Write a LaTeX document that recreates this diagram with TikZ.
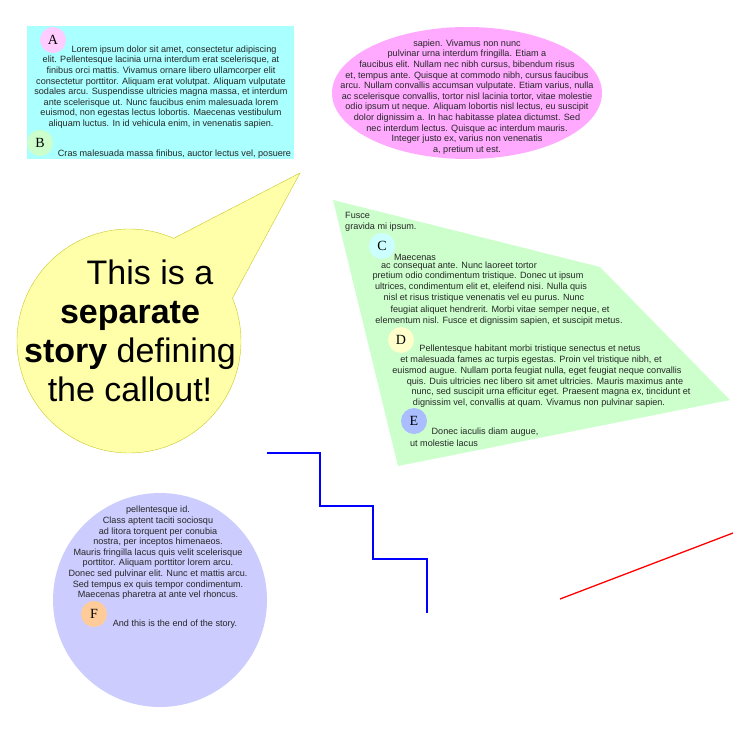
\documentclass[tikz,border=0pt]{standalone}
\usepackage{fontspec}
\setmainfont{Liberation Sans}
\newfontfamily\letterfont{Liberation Serif}
\usetikzlibrary{shapes.geometric,shapes.callouts}
\definecolor{framecyan}{RGB}{170,255,255}
\definecolor{framepink}{RGB}{255,170,255}
\definecolor{framegreen}{RGB}{204,255,204}
\definecolor{framelilac}{RGB}{204,204,255}
\definecolor{calloutfill}{RGB}{255,255,170}
\definecolor{calloutline}{RGB}{200,200,40}
\tikzstyle{lorem} = [font={\fontsize{9.1}{10.6}\selectfont}, inner sep=0pt, align=center, text=black!85]
\tikzstyle{initial} = [shape=circle, minimum size=26pt, inner sep=0pt, font={\letterfont\fontsize{14}{14}\selectfont}]

\begin{document}
\begin{tikzpicture}[x=1pt,y=-1pt]
\useasboundingbox (0,0) rectangle (733,733);

% frames
\fill[framecyan] (27,26) rectangle (294,159);
\node[fill=framepink, shape=ellipse, minimum width=270pt, minimum height=132pt, inner sep=0pt] (oval) at (467,93) {};
\fill[framegreen] (333,200) -- (600,267) -- (730,400) -- (398,466) -- cycle;
\node[fill=framelilac, shape=circle, minimum size=214pt, inner sep=0pt] (disc) at (160,600) {};

% callout
\coordinate (tip) at (300,173);
\node[ellipse callout, fill=calloutfill, draw=calloutline, minimum width=224pt, minimum height=224pt, inner sep=0pt, callout absolute pointer={(tip)}, callout pointer arc=44] (bubble) at (129,341) {};
\node[font={\fontsize{34}{39}\selectfont}, align=center, inner sep=0pt] (bubbletext) at (130,331) {\hspace*{40pt}This is a\\ \textbf{separate}\\ \textbf{story} defining\\ the callout!};

% initials
\node[initial, fill={rgb,255:red,255;green,204;blue,255}] (A) at (53,40) {A};
\node[initial, fill={rgb,255:red,204;green,255;blue,204}] (B) at (40,143) {B};
\node[initial, fill={rgb,255:red,204;green,255;blue,255}] (C) at (382,246) {C};
\node[initial, fill={rgb,255:red,255;green,255;blue,204}] (D) at (401,340) {D};
\node[initial, fill={rgb,255:red,170;green,190;blue,255}] (E) at (414,421) {E};
\node[initial, fill={rgb,255:red,255;green,204;blue,153}] (F) at (94,614) {F};

% story in the box
\node[lorem] (parA) at (161,87) {\hspace*{26pt}Lorem ipsum dolor sit amet, consectetur adipiscing\\
elit. Pellentesque lacinia urna interdum erat scelerisque, at\\
finibus orci mattis. Vivamus ornare libero ullamcorper elit\\
consectetur porttitor. Aliquam erat volutpat. Aliquam vulputate\\
sodales arcu. Suspendisse ultricies magna massa, et interdum\\
ante scelerisque ut. Nunc faucibus enim malesuada lorem\\
euismod, non egestas lectus lobortis. Maecenas vestibulum\\
aliquam luctus. In id vehicula enim, in venenatis sapien.};
\node[lorem] (parB) at (174.5,154) {Cras malesuada massa finibus, auctor lectus vel, posuere};

% story in the oval
\node[lorem] (parOval) at (467,97) {sapien. Vivamus non nunc\\
pulvinar urna interdum fringilla. Etiam a\\
faucibus elit. Nullam nec nibh cursus, bibendum risus\\
et, tempus ante. Quisque at commodo nibh, cursus faucibus\\
arcu. Nullam convallis accumsan vulputate. Etiam varius, nulla\\
ac scelerisque convallis, tortor nisl lacinia tortor, vitae molestie\\
odio ipsum ut neque. Aliquam lobortis nisl lectus, eu suscipit\\
dolor dignissim a. In hac habitasse platea dictumst. Sed\\
nec interdum lectus. Quisque ac interdum mauris.\\
Integer justo ex, varius non venenatis\\
a, pretium ut est.};

% story in the green shape
\node[lorem, align=left, anchor=west] (fusce) at (345,222) {Fusce\\gravida mi ipsum.};
\foreach \x/\y/\t [count=\i] in {
  415/257/{Maecenas},
  459/266/{ac consequat ante. Nunc laoreet tortor},
  478/276/{pretium odio condimentum tristique. Donec ut ipsum},
  481/287/{ultrices, condimentum elit et, eleifend nisi. Nulla quis},
  484/298/{nisl et risus tristique venenatis vel eu purus. Nunc},
  500/310/{feugiat aliquet hendrerit. Morbi vitae semper neque, et},
  499/321/{elementum nisl. Fusce et dignissim sapien, et suscipit metus.},
  530/349/{Pellentesque habitant morbi tristique senectus et netus},
  531/360/{et malesuada fames ac turpis egestas. Proin vel tristique nibh, et},
  537/371/{euismod augue. Nullam porta feugiat nulla, eget feugiat neque convallis},
  545/382/{quis. Duis ultricies nec libero sit amet ultricies. Mauris maximus ante},
  551/392/{nunc, sed suscipit urna efficitur eget. Praesent magna ex, tincidunt et},
  539/403/{dignissim vel, convallis at quam. Vivamus non pulvinar sapien.},
  485/432/{Donec iaculis diam augue,},
  444/443/{ut molestie lacus}}
  \node[lorem] (line\i) at (\x,\y) {\t};

% story in the disc
\node[lorem] (parDisc) at (158,553) {pellentesque id.\\
Class aptent taciti sociosqu\\
ad litora torquent per conubia\\
nostra, per inceptos himenaeos.\\
Mauris fringilla lacus quis velit scelerisque\\
porttitor. Aliquam porttitor lorem arcu.\\
Donec sed pulvinar elit. Nunc et mattis arcu.\\
Sed tempus ex quis tempor condimentum.\\
Maecenas pharetra at ante vel rhoncus.};
\node[lorem] (parEnd) at (175,624) {And this is the end of the story.};

% lines
\coordinate (stairtop) at (267,453);
\coordinate (stair1) at (320,506);
\coordinate (stair2) at (373,559);
\coordinate (stairend) at (427,613);
\draw[blue, line width=1.3pt] (stairtop) -| (stair1) -| (stair2) -| (stairend);
\coordinate (redstart) at (560,599);
\coordinate (redend) at (733,533);
\draw[red, line width=1.3pt] (redstart) -- (redend);
\end{tikzpicture}
\end{document}
